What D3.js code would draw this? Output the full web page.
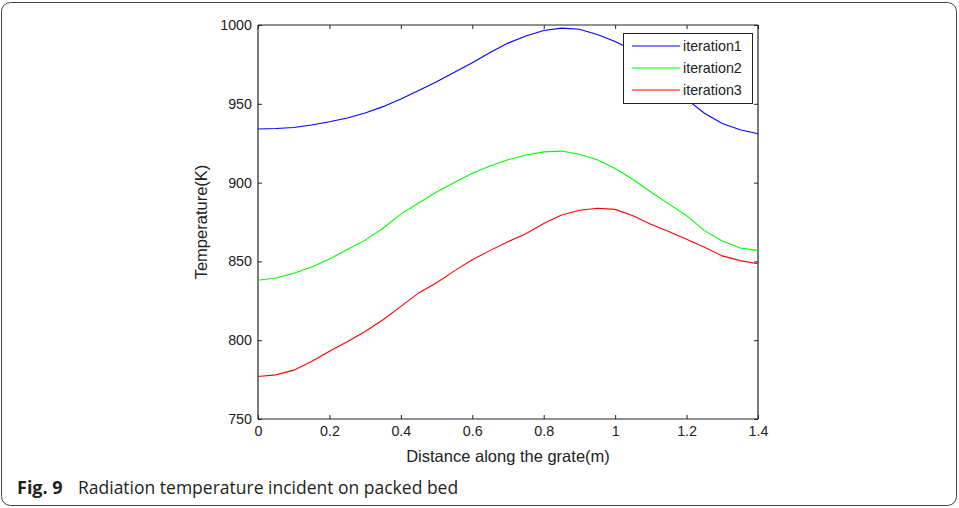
<!DOCTYPE html>
<html><head><meta charset="utf-8">
<script src="https://cdn.jsdelivr.net/npm/d3@7"></script>
<style>body{margin:0;background:#fff;} svg{display:block;}</style>
</head><body>
<svg id="chart" width="959" height="508"></svg>
<script>
const xValues = [0,0.05,0.1,0.15,0.2,0.25,0.3,0.35,0.4,0.45,0.5,0.55,0.6,0.65,0.7,0.75,0.8,0.85,0.9,0.95,1.0,1.05,1.1,1.15,1.2,1.25,1.3,1.35,1.4];
const iteration1 = [934,934.3,935,936.5,938.6,941,944.2,948.2,953,958.5,964,970,976,982.5,988.5,993,996.5,998,997.3,994,989.5,984,976,965,953,944,937.5,933.5,931];
const iteration2 = [838,839.5,842.5,846.5,851.5,857.5,863.5,871,880,887,894,900,906,910.5,914.5,917.5,919.5,920,918,914.5,909,902,894,886.5,879,869.5,863,858.5,857];
const iteration3 = [777,778,781,786.5,793,799,805.5,813,821.5,830,836.5,844,851,857,862.5,867.5,874,879.5,882.5,883.7,883,879,873.5,869,864,859,853.5,850.5,848.5];
const seriesNames = ["iteration1","iteration2","iteration3"];
const seriesColors = ["#0000ff","#00ff00","#ff0000"];
const xTicks = [0,0.2,0.4,0.6,0.8,1,1.2,1.4];
const yTicks = [750,800,850,900,950,1000];

const svg = d3.select("#chart");
const L=258, R=758, T=25, B=419;
const x = d3.scaleLinear().domain([0,1.4]).range([L,R]);
const y = d3.scaleLinear().domain([750,1000]).range([B,T]);

// outer frame
svg.append("rect").attr("x",1.5).attr("y",2.5).attr("width",955).attr("height",503)
  .attr("rx",9).attr("fill","none").attr("stroke","#444").attr("stroke-width",1);

const font = "'Liberation Sans', Arial, sans-serif";
const tickColor = "#222";
const tickSize = 14.3;

// axes
const axB = svg.append("g").attr("transform",`translate(0,${B})`)
  .call(d3.axisBottom(x).tickValues(xTicks).tickSize(-4).tickPadding(7).tickFormat(d3.format("")));
const axT = svg.append("g").attr("transform",`translate(0,${T})`)
  .call(d3.axisTop(x).tickValues(xTicks).tickSize(-4).tickFormat(""));
const axL = svg.append("g").attr("transform",`translate(${L},0)`)
  .call(d3.axisLeft(y).tickValues(yTicks).tickSize(-4).tickPadding(6).tickFormat(d3.format("d")));
const axR = svg.append("g").attr("transform",`translate(${R},0)`)
  .call(d3.axisRight(y).tickValues(yTicks).tickSize(-4).tickFormat(""));
[axB,axT,axL,axR].forEach(g=>{
  g.select(".domain").attr("stroke","#222").attr("stroke-width",1.2);
  g.selectAll(".tick line").attr("stroke","#222");
  g.selectAll(".tick text").attr("font-family",font).attr("font-size",tickSize).attr("fill",tickColor);
});
axL.selectAll(".domain").attr("d",`M0,${T}V${B}`);
axR.selectAll(".domain").attr("d",`M0,${T}V${B}`);
axB.selectAll(".domain").attr("d",`M${L},0H${R}`);
axT.selectAll(".domain").attr("d",`M${L},0H${R}`);

// lines
const allSeries = [iteration1, iteration2, iteration3];
const line = d3.line().x((d,i)=>x(xValues[i])).y(d=>y(d));
allSeries.forEach((s,k)=>{
  svg.append("path").datum(s).attr("d",line).attr("fill","none")
    .attr("stroke",seriesColors[k]).attr("stroke-width",1.1);
});

// legend
const lg = svg.append("g");
lg.append("rect").attr("x",623.5).attr("y",33.5).attr("width",129).attr("height",70)
  .attr("fill","#fff").attr("stroke","#222").attr("stroke-width",1);
seriesNames.forEach((n,k)=>{
  const yy = 46 + k*22;
  lg.append("line").attr("x1",632).attr("x2",680).attr("y1",yy).attr("y2",yy)
    .attr("stroke",seriesColors[k]).attr("stroke-width",1.1);
  lg.append("text").attr("x",683).attr("y",yy+5).text(n)
    .attr("font-family",font).attr("font-size",tickSize).attr("fill",tickColor);
});

// axis labels
svg.append("text").attr("x",(L+R)/2).attr("y",462).attr("text-anchor","middle")
  .attr("font-family",font).attr("font-size",16.5).attr("fill",tickColor)
  .text("Distance along the grate(m)");
svg.append("text").attr("transform",`translate(207,${(T+B)/2}) rotate(-90)`).attr("text-anchor","middle")
  .attr("font-family",font).attr("font-size",16.5).attr("fill",tickColor)
  .text("Temperature(K)");

// caption
const capFont = "'Open Sans', 'Noto Sans', sans-serif";
svg.append("text").attr("x",17).attr("y",494)
  .attr("font-family",capFont).attr("font-size",18).attr("font-weight","bold").attr("fill","#231f20")
  .text("Fig. 9");
svg.append("text").attr("x",78).attr("y",494)
  .attr("font-family",capFont).attr("font-size",17.5).attr("fill","#231f20")
  .text("Radiation temperature incident on packed bed");
</script>
</body></html>
